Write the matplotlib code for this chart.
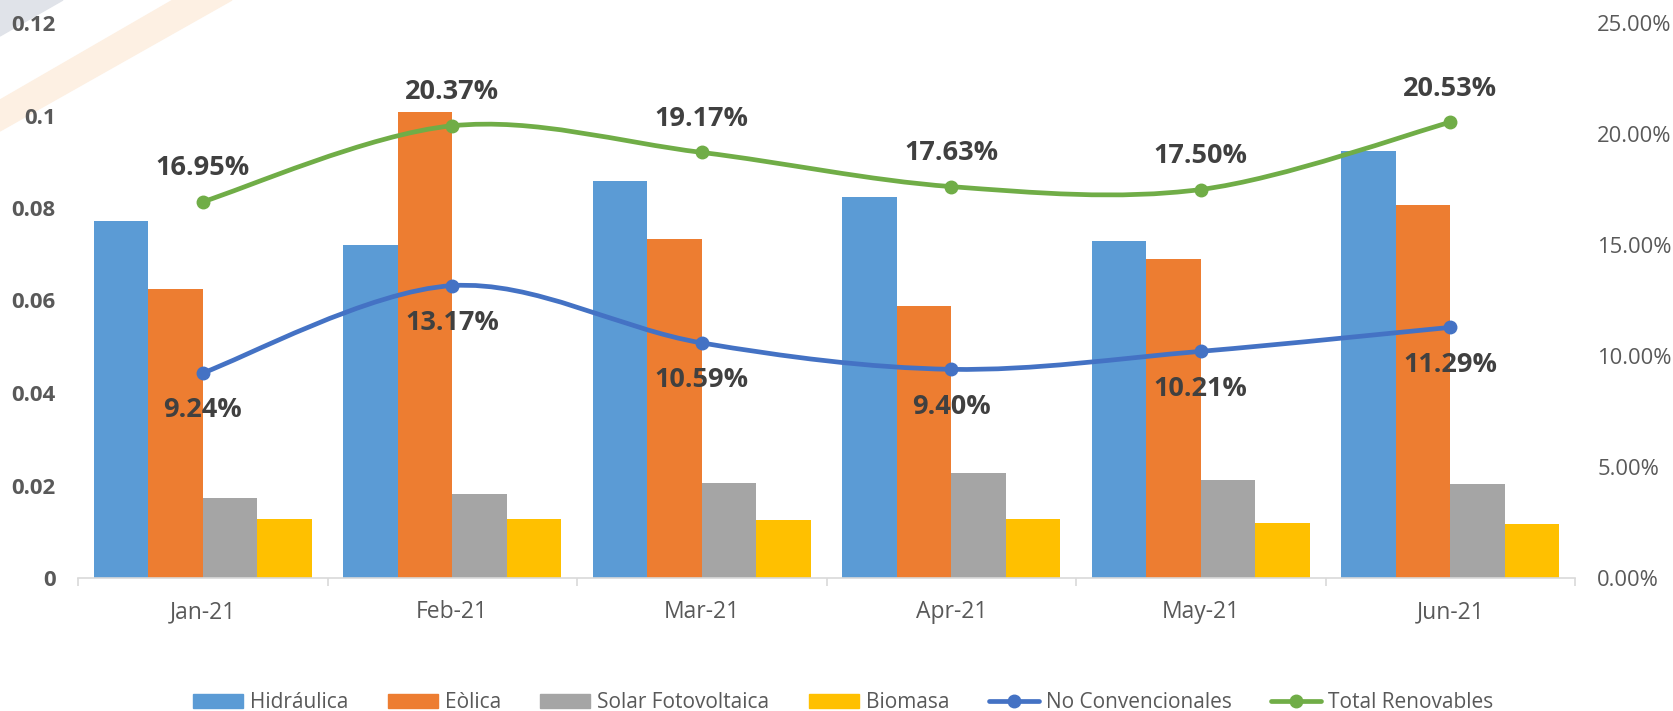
import numpy as np
import matplotlib
matplotlib.use("Agg")
from matplotlib import pyplot as plt
from matplotlib.path import Path
from matplotlib.patches import PathPatch, Polygon
from matplotlib.lines import Line2D

plt.rcParams['font.family'] = ['Open Sans', 'DejaVu Sans']

months = ["Jan-21", "Feb-21", "Mar-21", "Apr-21", "May-21", "Jun-21"]

# bar series (left axis)
hidraulica = [0.0771, 0.0720, 0.0858, 0.0824, 0.0729, 0.0923]
eolica = [0.0625, 0.1008, 0.0732, 0.0588, 0.0690, 0.0806]
solar = [0.0173, 0.0182, 0.0205, 0.0226, 0.0212, 0.0204]
biomasa = [0.0127, 0.0127, 0.0125, 0.0127, 0.0120, 0.0116]

# line series (right axis, percent)
no_conv = [9.24, 13.17, 10.59, 9.40, 10.21, 11.29]
total_ren = [16.95, 20.37, 19.17, 17.63, 17.50, 20.53]

left_ticks = [0, 0.02, 0.04, 0.06, 0.08, 0.1, 0.12]
left_labels = ["0", "0.02", "0.04", "0.06", "0.08", "0.1", "0.12"]
right_ticks = [0, 5, 10, 15, 20, 25]

bar_names = ["Hidráulica", "Eòlica", "Solar Fotovoltaica", "Biomasa"]
bar_colors = ["#5B9BD5", "#ED7D31", "#A5A5A5", "#FFC000"]
line_names = ["No Convencionales", "Total Renovables"]
line_colors = ["#4472C4", "#70AD47"]

TXT = "#595959"
LBL = "#404040"


def SmoothPath(xs, ys):
    """ Excel-like smoothed line as cubic bezier segments """
    pts = np.column_stack([xs, ys]).astype(float)
    n = len(pts)
    verts = [pts[0]]
    codes = [Path.MOVETO]
    for i in range(n - 1):
        p0 = pts[i - 1] if i > 0 else pts[i]
        p3 = pts[i + 2] if i + 2 < n else pts[i + 1]
        c1 = pts[i] + (pts[i + 1] - p0) / 6.0
        c2 = pts[i + 1] - (p3 - pts[i]) / 6.0
        verts += [c1, c2, pts[i + 1]]
        codes += [Path.CURVE4] * 3
    return Path(verts, codes)


fig = plt.figure(figsize=(16.73, 7.11), dpi=100)

# faint watermark bands in the top-left corner
W, H = 1673.0, 711.0
def px(x, y):
    return (x / W, 1 - y / H)
fig.patches.append(Polygon([px(0, 0), px(63, 0), px(0, 36)], closed=True,
                           transform=fig.transFigure, color="#e0e3e9", zorder=-5))
fig.patches.append(Polygon([px(173, 0), px(232, 0), px(0, 131), px(0, 100)], closed=True,
                           transform=fig.transFigure, color="#fdf0e3", zorder=-5))

ax = fig.add_axes([78 / W, 1 - 578 / H, (1575 - 78) / W, (578 - 23) / H])
ax.patch.set_alpha(0)
x = np.arange(len(months))
w = 0.218
series = [hidraulica, eolica, solar, biomasa]
for k, (vals, col) in enumerate(zip(series, bar_colors)):
    ax.bar(x + (k - 1.5) * w, vals, w, color=col, linewidth=0)

ax.set_xlim(-0.5, len(months) - 0.5)
ax.set_ylim(0, 0.12)
ax.set_yticks(left_ticks)
ax.set_yticklabels(left_labels, fontsize=16, fontweight="bold", color=TXT)
ax.tick_params(axis="y", length=0, pad=16)
ax.set_xticks(x)
ax.set_xticklabels(months, fontsize=16.5, color=TXT)
ax.tick_params(axis="x", which="major", length=0, pad=16)
ax.set_xticks(np.arange(-0.5, len(months)), minor=True)
ax.tick_params(axis="x", which="minor", length=6, width=1.2, color="#d9d9d9")
for s in ["top", "left", "right"]:
    ax.spines[s].set_visible(False)
ax.spines["bottom"].set_color("#d9d9d9")
ax.spines["bottom"].set_linewidth(1.2)

ax2 = ax.twinx()
ax2.set_ylim(0, 25)
ax2.set_yticks(right_ticks)
ax2.set_yticklabels(["{:.2f}%".format(v) for v in right_ticks], fontsize=15.8, color=TXT)
ax2.tick_params(axis="y", length=0, pad=16)
for s in ax2.spines.values():
    s.set_visible(False)

for vals, col, off in [(no_conv, line_colors[0], -27), (total_ren, line_colors[1], 24)]:
    ax2.add_patch(PathPatch(SmoothPath(x, vals), facecolor="none", edgecolor=col,
                            linewidth=3.4, capstyle="round", zorder=3))
    ax2.plot(x, vals, "o", color=col, markersize=9, zorder=4)
    for xi, v in zip(x, vals):
        ax2.annotate("{:.2f}%".format(v), (xi, v), xytext=(0, off), textcoords="offset points",
                     ha="center", va="center", fontsize=19.5, fontweight="bold", color=LBL)

handles = [plt.Rectangle((0, 0), 1, 1, color=c) for c in bar_colors]
handles += [Line2D([], [], color=c, linewidth=3.4, marker="o", markersize=9,
                   solid_capstyle="round") for c in line_colors]
fig.legend(handles, bar_names + line_names, loc="center", bbox_to_anchor=(0.504, 0.012),
           ncol=6, frameon=False, fontsize=15, labelcolor=TXT, handlelength=2.4,
           handleheight=0.68, handletextpad=0.33, columnspacing=1.9, borderpad=0)

fig.savefig("out.png", dpi=100)
